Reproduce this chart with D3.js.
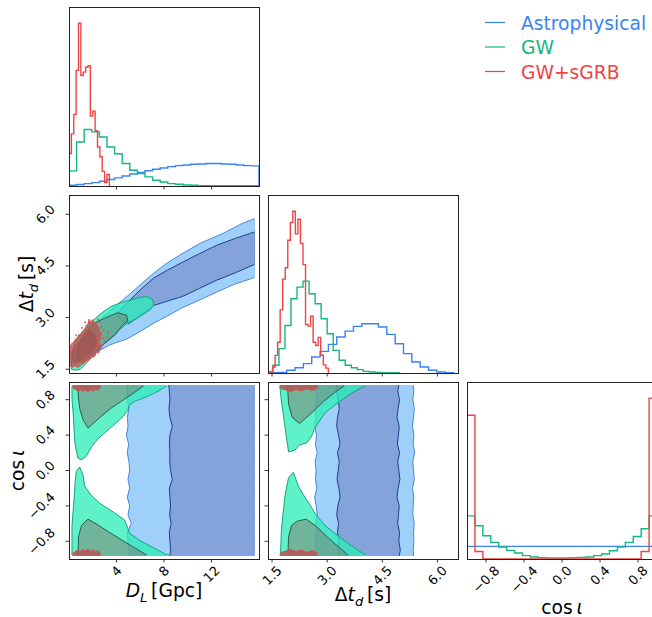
<!DOCTYPE html>
<html>
<head>
<meta charset="utf-8">
<script src="https://cdn.jsdelivr.net/npm/d3@7"></script>
<style>
  body { margin: 0; background: #fff; }
  svg { display: block; font-family: "DejaVu Sans", sans-serif; }
</style>
</head>
<body>
<svg id="chart" width="652" height="617"></svg>
<script>
// ---------------- data ----------------
const seriesNames = ["Astrophysical", "GW", "GW+sGRB"];

// tick values per parameter
const dlTicks = [4, 8, 12];
const dtTicks = [1.5, 3.0, 4.5, 6.0];
const cosTicks = [-0.8, -0.4, 0.0, 0.4, 0.8];

// 1-D marginals: first bin edge, bin width, density per bin
const dlAstroStart = 0, dlAstroWidth = 0.64;
const dlAstro = [0.003,0.006,0.010,0.014,0.020,0.027,0.034,0.042,0.050,0.057,0.064,0.070,0.075,0.081,0.085,0.088,0.091,0.092,0.094,0.094,0.092,0.091,0.088,0.085,0.084];
const dlGwStart = 0, dlGwWidth = 0.64;
const dlGw = [0.063,0.184,0.236,0.226,0.205,0.163,0.135,0.094,0.066,0.052,0.038,0.024,0.017,0.010,0.007,0.004,0.003,0.001,0.001,0.001,0.001,0.001,0.001,0.001,0.001];
const dlGrbStart = 0, dlGrbWidth = 0.2;
const dlGrb = [0.136,0.218,0.299,0.483,0.680,0.462,0.476,0.496,0.503,0.292,0.313,0.231,0.163,0.122,0.061,0.014,0.048];

const dtAstroStart = 1.445, dtAstroWidth = 0.227;
const dtAstro = [0.003,0.006,0.025,0.049,0.086,0.147,0.199,0.264,0.331,0.386,0.429,0.454,0.454,0.423,0.356,0.270,0.178,0.101,0.055,0.025,0.009,0.003];
const dtGwStart = 1.36, dtGwWidth = 0.164;
const dtGw = [0.009,0.071,0.224,0.438,0.684,0.791,0.846,0.730,0.638,0.500,0.362,0.208,0.117,0.071,0.049,0.031,0.015,0.009,0.006,0.003,0.003,0.003];
const dtGrbStart = 1.445, dtGrbWidth = 0.069;
const dtGrb = [0.009,0.055,0.162,0.283,0.581,0.864,0.969,1.222,1.386,1.490,1.281,1.416,1.192,0.998,0.447,0.432,0.522,0.283,0.253,0.328,0.164,0.075,0.045];

const cosStart = -1, cosWidth = 0.08333;
const cosAstro = [0.5,0.5,0.5,0.5,0.5,0.5,0.5,0.5,0.5,0.5,0.5,0.5,0.5,0.5,0.5,0.5,0.5,0.5,0.5,0.5,0.5,0.5,0.5,0.5];
const cosGw = [1.711,1.316,0.921,0.658,0.474,0.342,0.237,0.132,0.079,0.053,0.039,0.039,0.039,0.053,0.066,0.079,0.132,0.197,0.329,0.474,0.658,0.895,1.198,1.711];
const cosGrb = [5.70,0.30,0,0,0,0,0,0,0,0,0,0,0,0,0,0,0,0,0,0,0,0,0.30,6.38];

// 2-D credible regions, D_L vs Δt_d  (points: [D_L, Δt_d])
const dlDtAstroOuter = [[15.66,5.88],[14.5,5.72],[13.0,5.45],[11.0,5.15],[9.5,4.85],[8.2,4.57],[7.1,4.28],[6.0,3.95],[4.9,3.62],[3.8,3.3],[2.8,3.0],[2.0,2.7],[1.5,2.45],[1.3,2.2],[1.8,2.0],[2.6,2.05],[3.4,2.2],[4.2,2.3],[4.9,2.38],[6.2,2.64],[7.2,2.85],[8.2,3.03],[9.5,3.28],[11.0,3.51],[12.5,3.75],[13.8,3.95],[15.66,4.17]];
const dlDtAstroInner = [[15.66,5.49],[14.0,5.3],[12.44,5.10],[11.0,4.86],[9.63,4.62],[8.3,4.38],[7.1,4.14],[5.98,3.80],[5.14,3.51],[4.4,3.25],[4.02,3.1],[4.3,2.95],[5.0,2.82],[6.0,3.05],[7.1,3.35],[8.5,3.5],[9.6,3.62],[11.0,3.85],[12.4,4.08],[14.0,4.3],[15.66,4.55]];
const dlDtGwOuter = [[0.2,1.5],[0.25,1.85],[0.35,2.12],[0.7,2.4],[1.05,2.55],[1.5,2.72],[1.9,2.88],[2.7,3.12],[3.5,3.32],[4.6,3.46],[5.8,3.57],[6.5,3.62],[7.05,3.52],[7.15,3.36],[6.9,3.25],[6.5,3.15],[5.7,2.97],[4.85,2.82],[3.9,2.55],[2.9,2.22],[2.05,1.92],[1.4,1.65],[0.95,1.5],[0.5,1.47]];
const dlDtGwInner = [[0.8,1.75],[0.75,2.0],[0.9,2.3],[1.3,2.55],[2.1,2.84],[3.0,2.98],[3.8,3.1],[4.1,3.14],[4.85,3.07],[4.95,2.9],[4.5,2.78],[3.9,2.5],[3.0,2.25],[2.2,2.0],[1.5,1.8],[1.1,1.7]];
const dlDtGrbOuter = [[0.06,1.6],[0.3,1.56],[0.5,1.6],[0.75,1.55],[1.04,1.63],[1.3,1.68],[1.45,1.76],[1.6,1.73],[1.9,1.84],[2.16,1.87],[2.3,1.98],[2.5,1.97],[2.58,2.06],[2.74,2.12],[2.66,2.21],[2.5,2.28],[2.64,2.38],[2.72,2.55],[2.56,2.6],[2.5,2.72],[2.34,2.76],[2.28,2.86],[2.12,2.84],[1.98,2.94],[1.82,2.86],[1.7,2.96],[1.6,2.82],[1.46,2.78],[1.32,2.66],[1.18,2.62],[1.0,2.52],[0.82,2.5],[0.7,2.4],[0.5,2.36],[0.34,2.26],[0.2,2.24],[0.1,2.12],[0.06,1.96]];
const dlDtGrbInner = [[0.2,1.7],[0.6,1.66],[1.0,1.74],[1.4,1.84],[1.8,1.95],[2.15,2.06],[2.3,2.2],[2.35,2.38],[2.2,2.52],[1.95,2.62],[1.7,2.68],[1.45,2.55],[1.2,2.45],[0.85,2.32],[0.6,2.2],[0.35,2.1],[0.2,1.95]];
const dlDtGrbPoints = [[2.58,2.87],[2.72,2.74],[2.92,2.62],[3.28,2.57],[3.23,2.45],[2.86,2.40],[1.66,2.84],[2.02,2.81],[2.38,2.26],[3.0,2.31],[2.45,2.95],[1.35,2.86],[2.85,2.2],[2.6,2.5],[1.1,2.7],[0.6,2.48]];

// 2-D credible regions, D_L vs cos ι  (points: [D_L, cos ι])
const cosLevels = [0.966,0.9,0.8,0.7,0.6,0.5,0.4,0.3,0.2,0.1,0.0,-0.1,-0.2,-0.3,-0.4,-0.5,-0.6,-0.7,-0.8,-0.9,-0.966];
const dlCosAstroOuterEdge = [4.91,4.91,4.91,5.05,4.91,4.97,4.83,5.02,4.91,5.05,5.11,4.97,5.11,4.91,5.11,4.97,5.25,4.91,4.97,5.05,5.05];
const dlCosAstroInnerEdge = [8.40,8.45,8.50,8.42,8.50,8.70,8.50,8.45,8.50,8.48,8.55,8.70,8.45,8.50,8.55,8.48,8.60,8.45,8.50,8.55,8.50];
const dlCosAstroFar = 15.66;
const dlCosGwOuterTop = [[0.25,0.966],[8.3,0.966],[8.05,0.94],[7.3,0.88],[6.5,0.83],[5.5,0.78],[5.1,0.74],[4.95,0.68],[4.55,0.61],[3.9,0.53],[3.3,0.46],[2.45,0.36],[1.9,0.27],[1.45,0.16],[1.05,0.12],[0.75,0.14],[0.5,0.3],[0.35,0.65],[0.25,0.8]];
const dlCosGwOuterBottom = [[0.9,0.04],[0.62,-0.01],[0.53,-0.11],[0.42,-0.33],[0.25,-0.63],[0.25,-0.966],[8.6,-0.966],[8.06,-0.94],[6.93,-0.86],[5.95,-0.79],[5.11,-0.71],[4.69,-0.56],[3.85,-0.48],[2.58,-0.37],[1.88,-0.28],[1.32,-0.18],[1.18,-0.05]];
const dlCosGwInnerTop = [[0.76,0.966],[6.37,0.966],[5.5,0.88],[4.6,0.8],[3.5,0.7],[2.6,0.6],[1.6,0.48],[1.2,0.57],[0.9,0.7],[0.78,0.85]];
const dlCosGwInnerBottom = [[0.76,-0.966],[6.65,-0.966],[5.6,-0.88],[4.5,-0.79],[3.4,-0.7],[2.5,-0.62],[1.6,-0.55],[1.05,-0.62],[0.8,-0.75]];
const dlCosGrbTop = [[0.3,0.966],[2.65,0.966],[2.6,0.93],[2.45,0.905],[2.25,0.92],[2.05,0.895],[1.85,0.915],[1.6,0.89],[1.4,0.91],[1.15,0.895],[0.95,0.915],[0.7,0.9],[0.5,0.92],[0.35,0.93]];
const dlCosGrbBottom = [[0.3,-0.966],[2.65,-0.966],[2.6,-0.93],[2.45,-0.905],[2.25,-0.92],[2.05,-0.895],[1.85,-0.915],[1.6,-0.89],[1.4,-0.91],[1.15,-0.895],[0.95,-0.915],[0.7,-0.9],[0.5,-0.92],[0.35,-0.93]];

// 2-D credible regions, Δt_d vs cos ι  (points: [Δt_d, cos ι])
const dtCosAstroOuterLeft = [2.70,2.68,2.72,2.67,2.70,2.66,2.71,2.68,2.73,2.67,2.70,2.68,2.72,2.66,2.70,2.73,2.68,2.71,2.67,2.70,2.69];
const dtCosAstroInnerLeft = [3.27,3.25,3.30,3.33,3.28,3.26,3.31,3.35,3.28,3.33,3.30,3.27,3.32,3.35,3.29,3.26,3.31,3.28,3.33,3.30,3.32];
const dtCosAstroInnerRight = [4.95,4.92,4.97,4.93,4.90,4.96,4.94,4.91,4.97,4.92,4.95,4.98,4.93,4.90,4.96,4.94,4.92,4.97,4.95,4.99,4.96];
const dtCosAstroOuterRight = [5.34,5.36,5.33,5.37,5.35,5.32,5.36,5.34,5.38,5.33,5.35,5.37,5.32,5.36,5.34,5.33,5.37,5.35,5.36,5.34,5.35];
const dtCosGwOuterTop = [[1.71,0.966],[4.08,0.966],[3.9,0.93],[3.57,0.85],[3.21,0.74],[2.94,0.65],[2.66,0.48],[2.57,0.38],[2.43,0.31],[2.25,0.29],[2.12,0.23],[1.95,0.21],[1.89,0.38],[1.8,0.65],[1.75,0.8]];
const dtCosGwOuterBottom = [[2.08,-0.02],[2.15,-0.1],[2.22,-0.18],[2.39,-0.3],[2.55,-0.4],[2.66,-0.48],[2.94,-0.62],[3.21,-0.71],[3.62,-0.84],[3.95,-0.93],[4.08,-0.966],[1.73,-0.966],[1.75,-0.71],[1.8,-0.48],[1.85,-0.3],[1.89,-0.2],[1.95,-0.08]];
const dtCosGwInnerTop = [[1.92,0.966],[3.5,0.966],[3.2,0.88],[2.9,0.78],[2.6,0.66],[2.25,0.53],[2.05,0.6],[1.95,0.75]];
const dtCosGwInnerBottom = [[1.93,-0.966],[3.6,-0.966],[3.3,-0.86],[3.0,-0.75],[2.7,-0.63],[2.43,-0.55],[2.2,-0.57],[2.03,-0.62],[1.95,-0.75]];
const dtCosGrbTop = [[1.71,0.966],[2.75,0.966],[2.72,0.93],[2.6,0.905],[2.45,0.925],[2.3,0.9],[2.15,0.915],[2.0,0.89],[1.88,0.91],[1.78,0.92],[1.72,0.94]];
const dtCosGrbBottom = [[1.71,-0.966],[2.75,-0.966],[2.72,-0.93],[2.6,-0.905],[2.45,-0.925],[2.3,-0.9],[2.15,-0.915],[2.0,-0.89],[1.88,-0.91],[1.78,-0.92],[1.72,-0.94]];

// ---------------- styling ----------------
const lineColor = { astro: "#3b82f6", gw: "#10b981", grb: "#ef4444" };
const fill = {
  astroOuter: "#9fd0fa", astroInner: "#84a3da",
  astroOuterLine: "#4a86d8", astroInnerLine: "#1f3f8a",
  gwOuter: "rgb(42,238,183)", gwInner: "rgb(127,118,109)",
  gwOuterLine: "#14a57c", gwInnerLine: "#2b5f4a",
  grb: "#b05a55", grbInner: "#9c4a46", grbLine: "#e04848"
};

// ---------------- layout ----------------
const COLS = [[69, 259], [268, 458], [467, 657]];
const ROWS = [[7, 186], [195, 373], [382, 559]];
const DL_DOMAIN = [0, 16], DT_DOMAIN = [1.39, 6.56], COS_DOMAIN = [-1, 1];

const svg = d3.select("#chart");
const defs = svg.append("defs");

const xDL = d3.scaleLinear().domain(DL_DOMAIN).range(COLS[0]);
const xDT = d3.scaleLinear().domain(DT_DOMAIN).range(COLS[1]);
const xCOS = d3.scaleLinear().domain(COS_DOMAIN).range(COLS[2]);
const yDT = d3.scaleLinear().domain(DT_DOMAIN).range([ROWS[1][1], ROWS[1][0]]);
const yCOS = d3.scaleLinear().domain(COS_DOMAIN).range([ROWS[2][1], ROWS[2][0]]);

let clipId = 0;
function panel(col, row) {
  const id = "clip" + (clipId++);
  defs.append("clipPath").attr("id", id).append("rect")
    .attr("x", COLS[col][0]).attr("y", ROWS[row][0])
    .attr("width", COLS[col][1] - COLS[col][0]).attr("height", ROWS[row][1] - ROWS[row][0]);
  return svg.append("g").attr("clip-path", `url(#${id})`);
}
function strokeClip(x0, x1, y0, y1) {
  const id = "clip" + (clipId++);
  defs.append("clipPath").attr("id", id).append("rect")
    .attr("x", x0).attr("y", y0).attr("width", x1 - x0).attr("height", y1 - y0);
  return `url(#${id})`;
}
function frame(col, row) {
  svg.append("rect")
    .attr("x", COLS[col][0]).attr("y", ROWS[row][0])
    .attr("width", COLS[col][1] - COLS[col][0]).attr("height", ROWS[row][1] - ROWS[row][0])
    .attr("fill", "none").attr("stroke", "#222").attr("stroke-width", 1)
    .attr("shape-rendering", "crispEdges");
}

// step histogram
function stepHist(g, xs, ys, start, width, values, color) {
  const p = d3.path();
  p.moveTo(xs(start), ys(0));
  values.forEach((v, i) => {
    p.lineTo(xs(start + i * width), ys(v));
    p.lineTo(xs(start + (i + 1) * width), ys(v));
  });
  p.lineTo(xs(start + values.length * width), ys(0));
  g.append("path").attr("d", p.toString()).attr("fill", "none")
    .attr("stroke", color).attr("stroke-width", 1.4).attr("stroke-linejoin", "miter");
}

function polygon(g, xs, ys, pts, fillColor, opacity) {
  const line = d3.line().x(d => xs(d[0])).y(d => ys(d[1])).curve(d3.curveLinearClosed);
  g.append("path").attr("d", line(pts)).attr("fill", fillColor).attr("fill-opacity", opacity).attr("stroke", "none");
}
function outline(g, xs, ys, pts, color, width, clip) {
  const line = d3.line().x(d => xs(d[0])).y(d => ys(d[1])).curve(d3.curveLinearClosed);
  const p = g.append("path").attr("d", line(pts)).attr("fill", "none")
    .attr("stroke", color).attr("stroke-width", width).attr("stroke-linejoin", "round");
  if (clip) p.attr("clip-path", clip);
}
function polyline(g, xs, ys, pts, color, width) {
  const line = d3.line().x(d => xs(d[0])).y(d => ys(d[1]));
  g.append("path").attr("d", line(pts)).attr("fill", "none")
    .attr("stroke", color).attr("stroke-width", width).attr("stroke-linejoin", "round");
}
// band spanning the cos ι levels between a left and right edge
function band(leftVals, rightVals) {
  const left = cosLevels.map((c, i) => [leftVals[i], c]);
  const right = cosLevels.map((c, i) => [rightVals[i], c]).reverse();
  return left.concat(right);
}

// ---------------- diagonal: marginal histograms ----------------
{
  const g = panel(0, 0);
  const ymax = 1.1 * d3.max([...dlAstro, ...dlGw, ...dlGrb]);
  const ys = d3.scaleLinear().domain([0, ymax]).range([ROWS[0][1], ROWS[0][0]]);
  stepHist(g, xDL, ys, dlAstroStart, dlAstroWidth, dlAstro, lineColor.astro);
  stepHist(g, xDL, ys, dlGwStart, dlGwWidth, dlGw, lineColor.gw);
  stepHist(g, xDL, ys, dlGrbStart, dlGrbWidth, dlGrb, lineColor.grb);
}
{
  const g = panel(1, 1);
  const ymax = 1.1 * d3.max([...dtAstro, ...dtGw, ...dtGrb]);
  const ys = d3.scaleLinear().domain([0, ymax]).range([ROWS[1][1], ROWS[1][0]]);
  stepHist(g, xDT, ys, dtAstroStart, dtAstroWidth, dtAstro, lineColor.astro);
  stepHist(g, xDT, ys, dtGwStart, dtGwWidth, dtGw, lineColor.gw);
  stepHist(g, xDT, ys, dtGrbStart, dtGrbWidth, dtGrb, lineColor.grb);
}
{
  const g = panel(2, 2);
  const ymax = 1.1 * d3.max([...cosAstro, ...cosGw, ...cosGrb]);
  const ys = d3.scaleLinear().domain([0, ymax]).range([ROWS[2][1], ROWS[2][0]]);
  stepHist(g, xCOS, ys, cosStart, cosWidth, cosAstro, lineColor.astro);
  stepHist(g, xCOS, ys, cosStart, cosWidth, cosGw, lineColor.gw);
  stepHist(g, xCOS, ys, cosStart, cosWidth, cosGrb, lineColor.grb);
}

// ---------------- D_L vs Δt_d ----------------
{
  const g = panel(0, 1);
  const sc = strokeClip(COLS[0][0], xDL(15.6), ROWS[1][0], ROWS[1][1]);
  polygon(g, xDL, yDT, dlDtAstroOuter, fill.astroOuter, 1);
  polygon(g, xDL, yDT, dlDtAstroInner, fill.astroInner, 1);
  outline(g, xDL, yDT, dlDtAstroOuter, fill.astroOuterLine, 1, sc);
  outline(g, xDL, yDT, dlDtAstroInner, fill.astroInnerLine, 1, sc);
  polygon(g, xDL, yDT, dlDtGwOuter, fill.gwOuter, 0.75);
  polygon(g, xDL, yDT, dlDtGwInner, fill.gwInner, 0.5);
  outline(g, xDL, yDT, dlDtGwOuter, fill.gwOuterLine, 1);
  outline(g, xDL, yDT, dlDtGwInner, fill.gwInnerLine, 1);
  polygon(g, xDL, yDT, dlDtGrbOuter, fill.grb, 0.8);
  polygon(g, xDL, yDT, dlDtGrbInner, fill.grbInner, 0.5);
  outline(g, xDL, yDT, dlDtGrbOuter, fill.grbLine, 0.9);
  outline(g, xDL, yDT, dlDtGrbInner, fill.grbLine, 0.7);
  g.selectAll("rect.pt").data(dlDtGrbPoints).join("rect").attr("class", "pt")
    .attr("x", d => xDL(d[0]) - 0.8).attr("y", d => yDT(d[1]) - 0.8)
    .attr("width", 1.6).attr("height", 1.6).attr("fill", fill.grbLine);
}

// ---------------- D_L vs cos ι ----------------
{
  const g = panel(0, 2);
  const sc = strokeClip(COLS[0][0] - 2, xDL(15.6), yCOS(0.955), yCOS(-0.955));
  const farEdge = cosLevels.map(() => dlCosAstroFar);
  const outer = band(dlCosAstroOuterEdge, farEdge);
  const inner = band(dlCosAstroInnerEdge, farEdge);
  polygon(g, xDL, yCOS, outer, fill.astroOuter, 1);
  polygon(g, xDL, yCOS, inner, fill.astroInner, 1);
  polyline(g, xDL, yCOS, cosLevels.map((c, i) => [dlCosAstroOuterEdge[i], c]), fill.astroOuterLine, 1);
  polyline(g, xDL, yCOS, cosLevels.map((c, i) => [dlCosAstroInnerEdge[i], c]), fill.astroInnerLine, 1);
  [dlCosGwOuterTop, dlCosGwOuterBottom].forEach(p => polygon(g, xDL, yCOS, p, fill.gwOuter, 0.75));
  [dlCosGwInnerTop, dlCosGwInnerBottom].forEach(p => polygon(g, xDL, yCOS, p, fill.gwInner, 0.5));
  [dlCosGwOuterTop, dlCosGwOuterBottom].forEach(p => outline(g, xDL, yCOS, p, fill.gwOuterLine, 1, sc));
  [dlCosGwInnerTop, dlCosGwInnerBottom].forEach(p => outline(g, xDL, yCOS, p, fill.gwInnerLine, 1, sc));
  [dlCosGrbTop, dlCosGrbBottom].forEach(p => { polygon(g, xDL, yCOS, p, fill.grb, 0.9); outline(g, xDL, yCOS, p, fill.grbLine, 0.9, sc); });
}

// ---------------- Δt_d vs cos ι ----------------
{
  const g = panel(1, 2);
  const sc = strokeClip(COLS[1][0] - 2, COLS[1][1], yCOS(0.955), yCOS(-0.955));
  const outer = band(dtCosAstroOuterLeft, dtCosAstroOuterRight);
  const inner = band(dtCosAstroInnerLeft, dtCosAstroInnerRight);
  polygon(g, xDT, yCOS, outer, fill.astroOuter, 1);
  polygon(g, xDT, yCOS, inner, fill.astroInner, 1);
  [[dtCosAstroOuterLeft, fill.astroOuterLine], [dtCosAstroOuterRight, fill.astroOuterLine],
   [dtCosAstroInnerLeft, fill.astroInnerLine], [dtCosAstroInnerRight, fill.astroInnerLine]]
    .forEach(([vals, col]) => polyline(g, xDT, yCOS, cosLevels.map((c, i) => [vals[i], c]), col, 1));
  [dtCosGwOuterTop, dtCosGwOuterBottom].forEach(p => polygon(g, xDT, yCOS, p, fill.gwOuter, 0.75));
  [dtCosGwInnerTop, dtCosGwInnerBottom].forEach(p => polygon(g, xDT, yCOS, p, fill.gwInner, 0.5));
  [dtCosGwOuterTop, dtCosGwOuterBottom].forEach(p => outline(g, xDT, yCOS, p, fill.gwOuterLine, 1, sc));
  [dtCosGwInnerTop, dtCosGwInnerBottom].forEach(p => outline(g, xDT, yCOS, p, fill.gwInnerLine, 1, sc));
  [dtCosGrbTop, dtCosGrbBottom].forEach(p => { polygon(g, xDT, yCOS, p, fill.grb, 0.9); outline(g, xDT, yCOS, p, fill.grbLine, 0.9, sc); });
}

// ---------------- frames, ticks, labels ----------------
[[0,0],[0,1],[1,1],[0,2],[1,2],[2,2]].forEach(([c, r]) => frame(c, r));

const TICK = 3.5, TICK_FONT = 13;
const fmt1 = v => (v < 0 ? "\u2212" : "") + Math.abs(v).toFixed(1);
const fmt0 = v => String(v);

function xTicks(scale, ticks, yAxis, fmt) {
  ticks.forEach(t => {
    const x = scale(t);
    svg.append("line").attr("x1", x).attr("x2", x).attr("y1", yAxis).attr("y2", yAxis + TICK)
      .attr("stroke", "#222").attr("stroke-width", 0.9);
    if (!fmt) return;
    const txt = svg.append("text").text(fmt(t)).attr("font-size", TICK_FONT)
      .attr("text-anchor", "middle").attr("dominant-baseline", "central").attr("fill", "#000");
    const L = txt.node().getComputedTextLength();
    const half = (L + TICK_FONT * 0.72) * Math.SQRT1_2 / 2;
    txt.attr("transform", `translate(${x},${yAxis + 6 + half}) rotate(-45)`);
  });
}
function yTicks(scale, ticks, xAxis, fmt) {
  ticks.forEach(t => {
    const y = scale(t);
    svg.append("line").attr("x1", xAxis - TICK).attr("x2", xAxis).attr("y1", y).attr("y2", y)
      .attr("stroke", "#222").attr("stroke-width", 0.9);
    if (!fmt) return;
    const txt = svg.append("text").text(fmt(t)).attr("font-size", TICK_FONT)
      .attr("text-anchor", "middle").attr("dominant-baseline", "central").attr("fill", "#000");
    const L = txt.node().getComputedTextLength();
    const half = (L + TICK_FONT * 0.72) * Math.SQRT1_2 / 2;
    txt.attr("transform", `translate(${xAxis - 13 - half},${y}) rotate(-45)`);
  });
}

// unlabeled ticks on inner panels
xTicks(xDL, dlTicks, ROWS[0][1]);
xTicks(xDL, dlTicks, ROWS[1][1]);
xTicks(xDT, dtTicks, ROWS[1][1]);
yTicks(yCOS, cosTicks, COLS[1][0]);
// labeled ticks
yTicks(yDT, dtTicks, COLS[0][0], fmt1);
yTicks(yCOS, cosTicks, COLS[0][0], fmt1);
xTicks(xDL, dlTicks, ROWS[2][1], fmt0);
xTicks(xDT, dtTicks, ROWS[2][1], fmt1);
xTicks(xCOS, cosTicks, ROWS[2][1], fmt1);

// axis labels with math-style parts
const LABEL_FONT = 18.7;
function mathLabel(parts, x, y, rotate) {
  const t = svg.append("text").attr("font-size", LABEL_FONT).attr("text-anchor", "middle").attr("fill", "#000")
    .attr("transform", `translate(${x},${y})` + (rotate ? ` rotate(${rotate})` : ""));
  let shift = 0;
  parts.forEach(p => {
    const s = t.append("tspan").text(p.t);
    if (p.it) s.attr("font-style", "italic");
    const want = p.sub ? LABEL_FONT * 0.25 : 0;
    if (want !== shift) { s.attr("dy", want - shift); shift = want; }
    if (p.sub) s.attr("font-size", LABEL_FONT * 0.7);
  });
}
const dlLabel = [{ t: "D", it: true }, { t: "L", it: true, sub: true }, { t: "\u2009[Gpc]" }];
const dtLabel = [{ t: "\u0394" }, { t: "t", it: true }, { t: "d", it: true, sub: true }, { t: "\u2009[s]" }];
const cosLabel = [{ t: "cos\u2009" }, { t: "\u03b9", it: true }];

mathLabel(dlLabel, (COLS[0][0] + COLS[0][1]) / 2, 597);
mathLabel(dtLabel, (COLS[1][0] + COLS[1][1]) / 2, 601);
mathLabel(cosLabel, (COLS[2][0] + COLS[2][1]) / 2, 614);
mathLabel(dtLabel, 33, (ROWS[1][0] + ROWS[1][1]) / 2, -90);
mathLabel(cosLabel, 24, (ROWS[2][0] + ROWS[2][1]) / 2, -90);

// legend
const legendColors = [lineColor.astro, lineColor.gw, lineColor.grb];
const legend = svg.append("g");
seriesNames.forEach((name, i) => {
  const y = 22.5 + i * 24.5;
  legend.append("line").attr("x1", 485).attr("x2", 505).attr("y1", y).attr("y2", y)
    .attr("stroke", legendColors[i]).attr("stroke-width", 1.2);
  legend.append("text").text(name).attr("x", 521).attr("y", y + 7)
    .attr("font-size", LABEL_FONT).attr("fill", legendColors[i]);
});
</script>
</body>
</html>
